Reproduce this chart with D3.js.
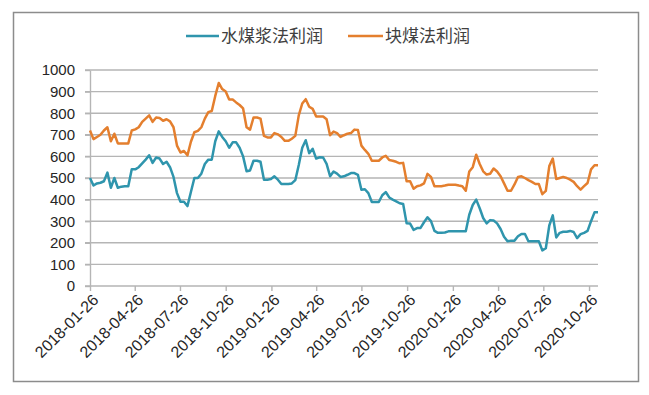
<!DOCTYPE html>
<html>
  <head>
    <meta charset="utf-8">
    <title>水煤浆法利润 / 块煤法利润</title>
    <script src="https://d3js.org/d3.v7.min.js"></script>
    <style>
      body { margin: 0; background: #fff; }
      #chart { display: block; font-family: "Liberation Sans", sans-serif; }
      .legend text { font-family: "Noto Sans CJK SC", sans-serif; font-size: 17px; fill: #404040; }
      .axis text { font-size: 15px; fill: #262626; }
      .axis.x text { font-size: 16px; }
    </style>
  </head>
  <body>
    <svg id="chart" width="649" height="395"></svg>
    <script>
      // weekly profit data (yuan/t), first week 2018-01-26
      var startDate = "2018-01-26";
      var seriesNames = ["水煤浆法利润", "块煤法利润"];
      var water = [
        500, 465, 475, 478, 485, 525, 455, 500, 455, 460, 462, 462, 540, 540, 550, 568, 585, 605, 570, 595,
        590, 565, 575, 550, 505, 430, 390, 390, 370, 435, 500, 500, 520, 565, 585, 585, 670, 716, 690, 670,
        640, 665, 665, 640, 600, 531, 535, 580, 580, 575, 492, 492, 495, 508, 492, 472, 472, 472, 475, 490,
        560, 640, 675, 615, 635, 590, 596, 595, 565, 508, 530, 520, 505, 508, 515, 523, 523, 515, 446, 448,
        430, 389, 389, 389, 420, 435, 410, 400, 392, 383, 380, 290, 289, 260, 268, 269, 295, 318, 300, 255,
        246, 246, 248, 253, 253, 253, 253, 253, 253, 330, 375, 400, 360, 315, 290, 305, 303, 290, 264, 228,
        207, 210, 210, 230, 241, 241, 207, 207, 207, 207, 165, 175, 280, 327, 225, 246, 251, 251, 255, 250,
        222, 240, 246, 255, 300, 341, 341
      ];
      var lump = [
        720, 680, 690, 700, 720, 735, 670, 705, 660, 660, 660, 660, 720, 725, 735, 760, 775, 790, 760, 780,
        778, 765, 772, 762, 735, 650, 618, 625, 605, 668, 712, 718, 735, 775, 805, 810, 880, 940, 912, 900,
        863, 863, 850, 838, 822, 735, 724, 780, 780, 775, 695, 688, 688, 708, 702, 690, 672, 672, 682, 695,
        790, 845, 865, 830, 820, 785, 785, 785, 772, 698, 715, 708, 690, 698, 705, 708, 724, 722, 650, 630,
        612, 580, 580, 580, 595, 603, 583, 580, 575, 568, 570, 485, 485, 450, 462, 466, 475, 519, 505, 462,
        462, 462, 465, 469, 469, 469, 465, 462, 441, 530, 550, 608, 565, 531, 516, 520, 544, 530, 508, 475,
        441, 441, 470, 505, 508, 500, 490, 482, 472, 472, 425, 440, 555, 590, 495, 500, 505, 500, 492, 482,
        462, 446, 462, 477, 540, 559, 559
      ];
      var tickLabels = [
        "2018-01-26", "2018-04-26", "2018-07-26", "2018-10-26", "2019-01-26", "2019-04-26",
        "2019-07-26", "2019-10-26", "2020-01-26", "2020-04-26", "2020-07-26", "2020-10-26"
      ];
      var yTicks = [0, 100, 200, 300, 400, 500, 600, 700, 800, 900, 1000];
      var colours = ["#2f95ad", "#e47f2e"];

      var parse = d3.timeParse("%Y-%m-%d");
      var start = parse(startDate);
      var dates = water.map(function(d, i) { return d3.timeDay.offset(start, 7 * i); });
      var series = [water, lump].map(function(values) {
        return values.map(function(v, i) { return { date: dates[i], value: v }; });
      });

      // layout
      chart = d3.select("#chart");
      margin = { top: 70, right: 51, bottom: 109, left: 90 };
      width = 649;
      height = 395;
      gridColour = "#b5b5b5";

      chart.append("rect")
        .attr("x", 13.5).attr("y", 12.5)
        .attr("width", 625).attr("height", 369)
        .attr("fill", "#fff")
        .attr("stroke", "#8c8c8c")
        .attr("stroke-width", 1.5);

      x = d3.scaleTime()
        .domain([start, dates[dates.length - 1]])
        .range([margin.left, width - margin.right]);
      y = d3.scaleLinear()
        .domain([0, 1000])
        .range([height - margin.bottom, margin.top]);

      // gridlines
      chart.append("g")
        .selectAll("line")
        .data(yTicks.slice(1))
        .enter().append("line")
          .attr("x1", margin.left - 5)
          .attr("x2", width - margin.right)
          .attr("y1", function(d) { return y(d); })
          .attr("y2", function(d) { return y(d); })
          .attr("stroke", gridColour)
          .attr("stroke-width", 1.4);

      // y axis
      yAxis = d3.axisLeft(y)
        .tickValues(yTicks)
        .tickFormat(d3.format("d"))
        .tickSize(5)
        .tickPadding(10)
        .tickSizeOuter(0);
      chart.append("g")
        .attr("class", "axis y")
        .attr("transform", "translate(" + margin.left + ",0)")
        .call(yAxis)
        .call(function(g) {
          g.select(".domain").attr("stroke", gridColour).attr("stroke-width", 1.4);
          g.selectAll(".tick line").attr("stroke", gridColour).attr("stroke-width", 1.4);
        });

      // x axis
      tickDates = tickLabels.map(parse);
      xAxis = d3.axisBottom(x)
        .tickValues(tickDates)
        .tickFormat(function(d, i) { return tickLabels[i]; })
        .tickSize(5)
        .tickSizeOuter(0);
      xAxisGroup = chart.append("g")
        .attr("class", "axis x")
        .attr("transform", "translate(0," + y(0) + ")")
        .call(xAxis);
      xAxisGroup.select(".domain")
        .attr("d", "M" + (margin.left - 5) + ",0H" + (width - margin.right))
        .attr("stroke", gridColour).attr("stroke-width", 1.4);
      xAxisGroup.selectAll(".tick line").attr("stroke", gridColour).attr("stroke-width", 1.4);
      xAxisGroup.selectAll(".tick text")
        .attr("x", 0).attr("y", 0).attr("dy", "0.35em")
        .attr("transform", "translate(5,11) rotate(-45)")
        .style("text-anchor", "end");

      // lines
      line = d3.line()
        .x(function(d) { return x(d.date); })
        .y(function(d) { return y(d.value); });
      chart.append("g")
        .selectAll("path")
        .data(series)
        .enter().append("path")
          .attr("d", line)
          .attr("fill", "none")
          .attr("stroke", function(d, i) { return colours[i]; })
          .attr("stroke-width", 2.5)
          .attr("stroke-linejoin", "round");

      // legend
      legendPos = [{ x: 186, w: 33 }, { x: 348, w: 35 }];
      legend = chart.append("g")
        .attr("class", "legend")
        .selectAll("g")
        .data(seriesNames)
        .enter().append("g")
          .attr("transform", function(d, i) { return "translate(" + legendPos[i].x + ",36)"; });
      legend.append("line")
        .attr("x1", 0)
        .attr("x2", function(d, i) { return legendPos[i].w; })
        .attr("stroke", function(d, i) { return colours[i]; })
        .attr("stroke-width", 2.6);
      legend.append("text")
        .attr("x", function(d, i) { return legendPos[i].w + 2; })
        .attr("dy", "0.35em")
        .text(function(d) { return d; });
    </script>
  </body>
</html>
